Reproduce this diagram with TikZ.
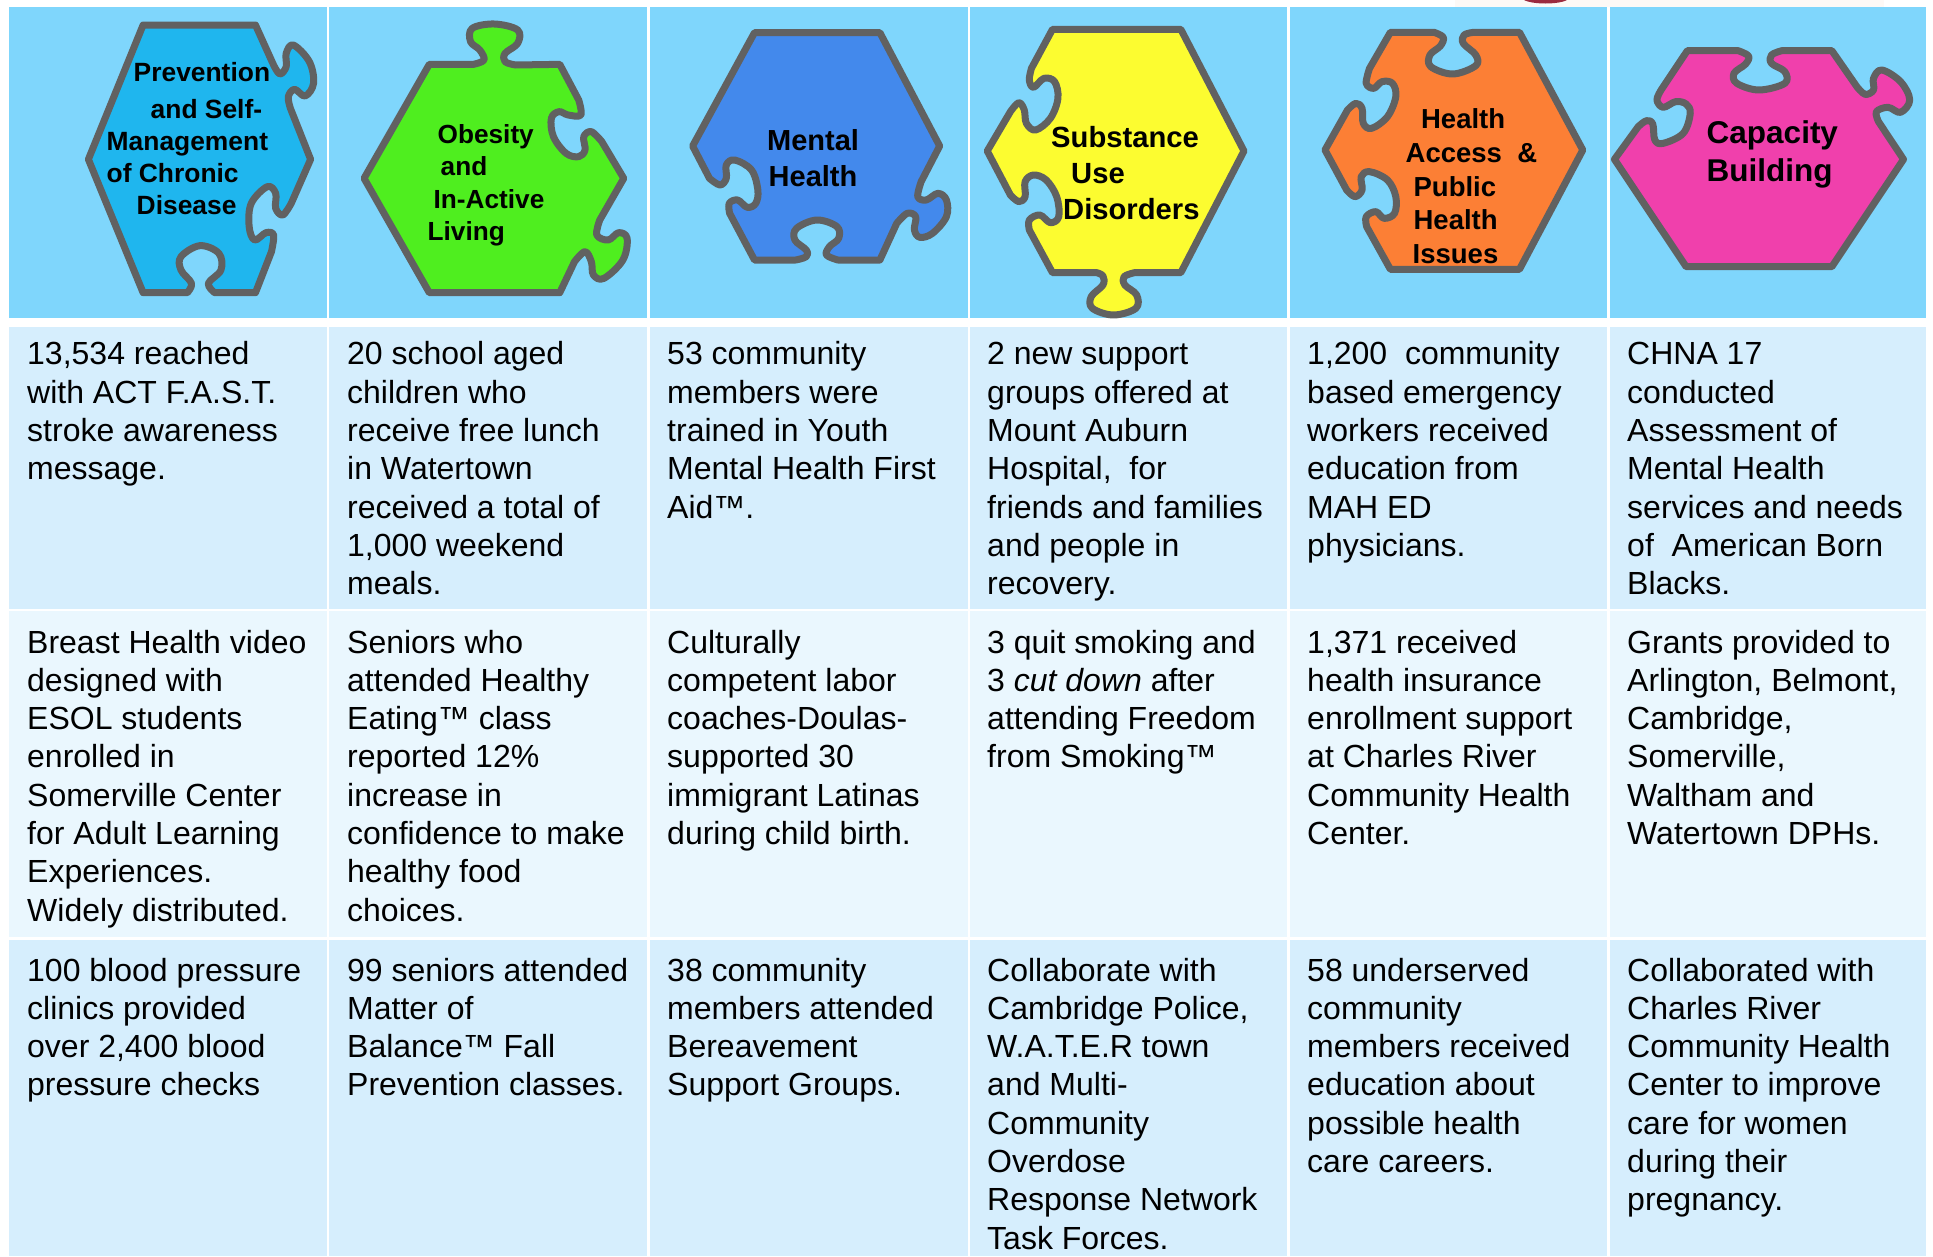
\documentclass[tikz,border=0pt]{standalone}
\usepackage{fontspec}
\setmainfont{Liberation Sans}
\definecolor{headc}{HTML}{7FD6FC}
\definecolor{rowa}{HTML}{D6EEFD}
\definecolor{rowb}{HTML}{EAF7FE}
\definecolor{edgec}{HTML}{616161}
\definecolor{creamc}{HTML}{FDF9F6}
\definecolor{maroonc}{HTML}{9C2B3F}
\tikzset{
  cellhead/.style={fill=headc,draw=none},
  cella/.style={fill=rowa,draw=none},
  cellb/.style={fill=rowb,draw=none},
  body/.style={anchor=north west,inner sep=0pt,align=left,font=\fontsize{32}{38.3}\selectfont,text=black},
  headtext/.style 2 args={anchor=north west,inner sep=0pt,align=left,font=\fontsize{#1}{#2}\selectfont\bfseries,text=black},
  piece/.style={draw=edgec,line width=7pt,line join=round,line cap=round},
  zoomed/.style={x=0.42088pt,y=-0.33333pt},
  zoomedb/.style={x=0.41649pt,y=-0.33333pt},
  smoothcurve/.style={smooth,tension=0.6},
}
\begin{document}
\begin{tikzpicture}[x=1pt,y=-1pt]
\useasboundingbox (0,0) rectangle (1933,1256);
\fill[white] (0,0) rectangle (1933,1256);
\fill[creamc] (1455,0) rectangle (1884,6.5);
\begin{scope}
\clip (1400,0) rectangle (1700,7);
\fill[maroonc] (1545.5,-2) ellipse (23 and 5.5);
\end{scope}
% table cells
\foreach \xa/\xb in {9.3/326.7,329.3/647,649.6/967.5,970/1287,1289.6/1607,1609.5/1926}{
  \fill[cellhead] (\xa,7) rectangle (\xb,318);
  \fill[cella] (\xa,326.5) rectangle (\xb,609);
  \fill[cellb] (\xa,611.3) rectangle (\xb,937);
  \fill[cella] (\xa,940) rectangle (\xb,1256);
}
% pieces
\begin{scope}[zoomed]
\draw[piece,fill={rgb,255:red,31;green,182;blue,238}]
 (340,75) -- (607,75) -- (650,195) -- plot[smoothcurve] coordinates {(650,195) (665,222) (680,200) (680,160) (697,135) (735,185) (745,250) (725,288) (700,268) (685,290) (690,325)}
 -- (738,478) -- (692,610) -- plot[smoothcurve] coordinates {(692,610) (672,645) (655,625) (655,580) (635,560) (597,610) (592,680) (605,720) (632,698) (650,705) (645,755)}
 -- (607,878) -- (510,878) -- plot[smoothcurve] coordinates {(510,878) (495,850) (525,810) (520,760) (475,737) (430,770) (430,810) (455,850) (445,878)}
 -- (340,878) -- (210,478) -- cycle;
\draw[piece,fill={rgb,255:red,79;green,238;blue,31}]
 (1020,193) -- (1125,193) -- plot[smoothcurve] coordinates {(1125,193) (1150,180) (1140,150) (1118,125) (1122,85) (1175,72) (1230,90) (1230,130) (1200,160) (1200,185) (1225,195)}
 -- (1330,193) -- (1375,300) -- plot[smoothcurve] coordinates {(1375,300) (1380,345) (1350,345) (1328,335) (1310,355) (1315,410) (1345,460) (1375,470) (1390,450) (1387,410) (1405,395) (1430,425)}
 -- (1482,535) -- (1425,660) -- plot[smoothcurve] coordinates {(1425,660) (1418,705) (1445,720) (1470,698) (1490,715) (1480,780) (1435,835) (1410,825) (1405,785) (1390,755) (1365,785)}
 -- (1330,878) -- (1020,878) -- (865,535) -- cycle;
\end{scope}
\begin{scope}[zoomed,xshift=640pt]
\draw[piece,fill={rgb,255:red,67;green,137;blue,236}]
 (272,98) -- (570,98) -- (712,438) -- (668,545) -- plot[smoothcurve] coordinates {(668,545) (660,590) (680,600) (708,580) (728,600) (728,650) (695,700) (665,712) (652,690) (655,650) (635,640) (610,670)}
 -- (570,780) -- (470,780) -- plot[smoothcurve] coordinates {(470,780) (443,765) (450,740) (472,715) (468,680) (420,660) (372,685) (368,720) (395,750) (395,770) (370,780)}
 -- (272,780) -- (213,640) -- plot[smoothcurve] coordinates {(213,640) (212,610) (232,600) (255,622) (275,610) (280,570) (265,510) (225,480) (205,495) (205,535) (190,555) (165,535)}
 -- (125,438) -- cycle;
\draw[piece,fill={rgb,255:red,252;green,252;blue,48}]
 (980,88) -- (1285,88) -- (1435,453) -- (1285,818) -- (1175,818) -- plot[smoothcurve] coordinates {(1175,818) (1150,830) (1152,855) (1180,885) (1178,925) (1125,945) (1075,925) (1072,890) (1100,855) (1100,828) (1085,818)}
 -- (980,818) -- (925,690) -- plot[smoothcurve] coordinates {(925,690) (925,660) (950,645) (975,668) (995,650) (990,590) (965,540) (935,525) (915,545) (915,590) (900,605) (880,585)}
 -- (825,453) -- (880,335) -- plot[smoothcurve] coordinates {(880,335) (900,308) (913,330) (918,370) (940,390) (975,355) (993,295) (985,245) (960,235) (935,262) (925,240) (930,205)}
 -- cycle;
\end{scope}
\begin{scope}[zoomedb,xshift=1280pt]
\draw[piece,fill={rgb,255:red,252;green,127;blue,53}]
 (265,97) -- (370,97) -- plot[smoothcurve] coordinates {(370,97) (392,112) (385,138) (360,165) (362,200) (415,222) (470,197) (470,165) (440,130) (442,105) (465,97)}
 -- (575,97) -- (727,450) -- (575,808) -- (265,808) -- (208,680) -- plot[smoothcurve] coordinates {(208,680) (207,650) (230,635) (250,655) (275,640) (278,590) (258,540) (215,515) (195,530) (197,570) (180,590) (160,570)}
 -- (108,450) -- (162,330) -- plot[smoothcurve] coordinates {(162,330) (182,310) (197,325) (200,370) (220,385) (258,350) (278,290) (270,250) (245,245) (225,265) (207,250) (215,205)}
 -- cycle;
\draw[piece,fill={rgb,255:red,240;green,64;blue,172}]
 (978,152) -- (1100,152) -- plot[smoothcurve] coordinates {(1100,152) (1125,168) (1118,192) (1090,220) (1097,250) (1150,270) (1212,250) (1212,215) (1180,190) (1180,165) (1205,152)}
 -- (1325,152) -- (1385,260) -- plot[smoothcurve] coordinates {(1385,260) (1405,283) (1425,270) (1425,235) (1445,210) (1490,245) (1512,300) (1490,337) (1460,322) (1432,335) (1437,365)}
 -- (1497,478) -- (1325,800) -- (975,800) -- (803,478) -- (860,380) -- plot[smoothcurve] coordinates {(860,380) (880,362) (895,372) (900,420) (920,430) (968,400) (985,340) (975,312) (950,305) (920,322) (905,300) (915,270)}
 -- cycle;
\end{scope}
% header text
\node[headtext={26.4}{32}] (h1) at (106.5,58.6) {\strut\hspace*{27pt}Prevention\\[5pt]\hspace*{44pt}and Self-\\Management\\of Chronic\\\hspace*{30pt}Disease};
\node[headtext={26.2}{32.5}] (h2) at (427.5,120.5) {\strut\hspace*{10pt}Obesity\\\hspace*{13pt}and\\\hspace*{6pt}In-Active\\Living};
\node[headtext={29}{36}] (h3) at (767,125) {\strut Mental\\\hspace*{1.5pt}Health};
\node[headtext={29.2}{35.7}] (h4) at (1051,122.5) {\strut Substance\\\hspace*{20pt}Use\\\hspace*{12pt}Disorders};
\node[headtext={27.5}{33.7}] (h5) at (1405.5,105) {\strut\hspace*{15.4pt}Health\\Access\ \ \&\\\hspace*{7.9pt}Public\\\hspace*{7.9pt}Health\\\hspace*{7pt}Issues};
\node[headtext={31.5}{38.4}] (h6) at (1706.5,116.5) {\strut Capacity\\Building};
% row 1
\node[body] (a1) at (27,337.8) {\strut 13,534 reached\\with ACT F.A.S.T.\\stroke awareness\\message.};
\node[body] (a2) at (347,337.8) {\strut 20 school aged\\children who\\receive free lunch\\in Watertown\\received a total of\\1,000 weekend\\meals.};
\node[body] (a3) at (667,337.8) {\strut 53 community\\members were\\trained in Youth\\Mental Health First\\Aid™.};
\node[body] (a4) at (987,337.8) {\strut 2 new support\\groups offered at\\Mount Auburn\\Hospital,\ \ for\\friends and families\\and people in\\recovery.};
\node[body] (a5) at (1307,337.8) {\strut 1,200\ \ community\\based emergency\\workers received\\education from\\MAH ED\\physicians.};
\node[body] (a6) at (1627,337.8) {\strut CHNA 17\\conducted\\Assessment of\\Mental Health\\services and needs\\of\ \ American Born\\Blacks.};
% row 2
\node[body] (b1) at (27,626) {\strut Breast Health video\\designed with\\ESOL students\\enrolled in\\Somerville Center\\for Adult Learning\\Experiences.\\Widely distributed.};
\node[body] (b2) at (347,626) {\strut Seniors who\\attended Healthy\\Eating™ class\\reported 12\%\\increase in\\confidence to make\\healthy food\\choices.};
\node[body] (b3) at (667,626) {\strut Culturally\\competent labor\\coaches-Doulas-\\supported 30\\immigrant Latinas\\during child birth.};
\node[body] (b4) at (987,626) {\strut 3 quit smoking and\\3 \textit{cut down} after\\attending Freedom\\from Smoking™};
\node[body] (b5) at (1307,626) {\strut 1,371 received\\health insurance\\enrollment support\\at Charles River\\Community Health\\Center.};
\node[body] (b6) at (1627,626) {\strut Grants provided to\\Arlington, Belmont,\\Cambridge,\\Somerville,\\Waltham and\\Watertown DPHs.};
% row 3
\node[body] (c1) at (27,954) {\strut 100 blood pressure\\clinics provided\\over 2,400 blood\\pressure checks};
\node[body] (c2) at (347,954) {\strut 99 seniors attended\\Matter of\\Balance™ Fall\\Prevention classes.};
\node[body] (c3) at (667,954) {\strut 38 community\\members attended\\Bereavement\\Support Groups.};
\node[body] (c4) at (987,954) {\strut Collaborate with\\Cambridge Police,\\W.A.T.E.R town\\and Multi-\\Community\\Overdose\\Response Network\\Task Forces.};
\node[body] (c5) at (1307,954) {\strut 58 underserved\\community\\members received\\education about\\possible health\\care careers.};
\node[body] (c6) at (1627,954) {\strut Collaborated with\\Charles River\\Community Health\\Center to improve\\care for women\\during their\\pregnancy.};
\end{tikzpicture}
\end{document}
